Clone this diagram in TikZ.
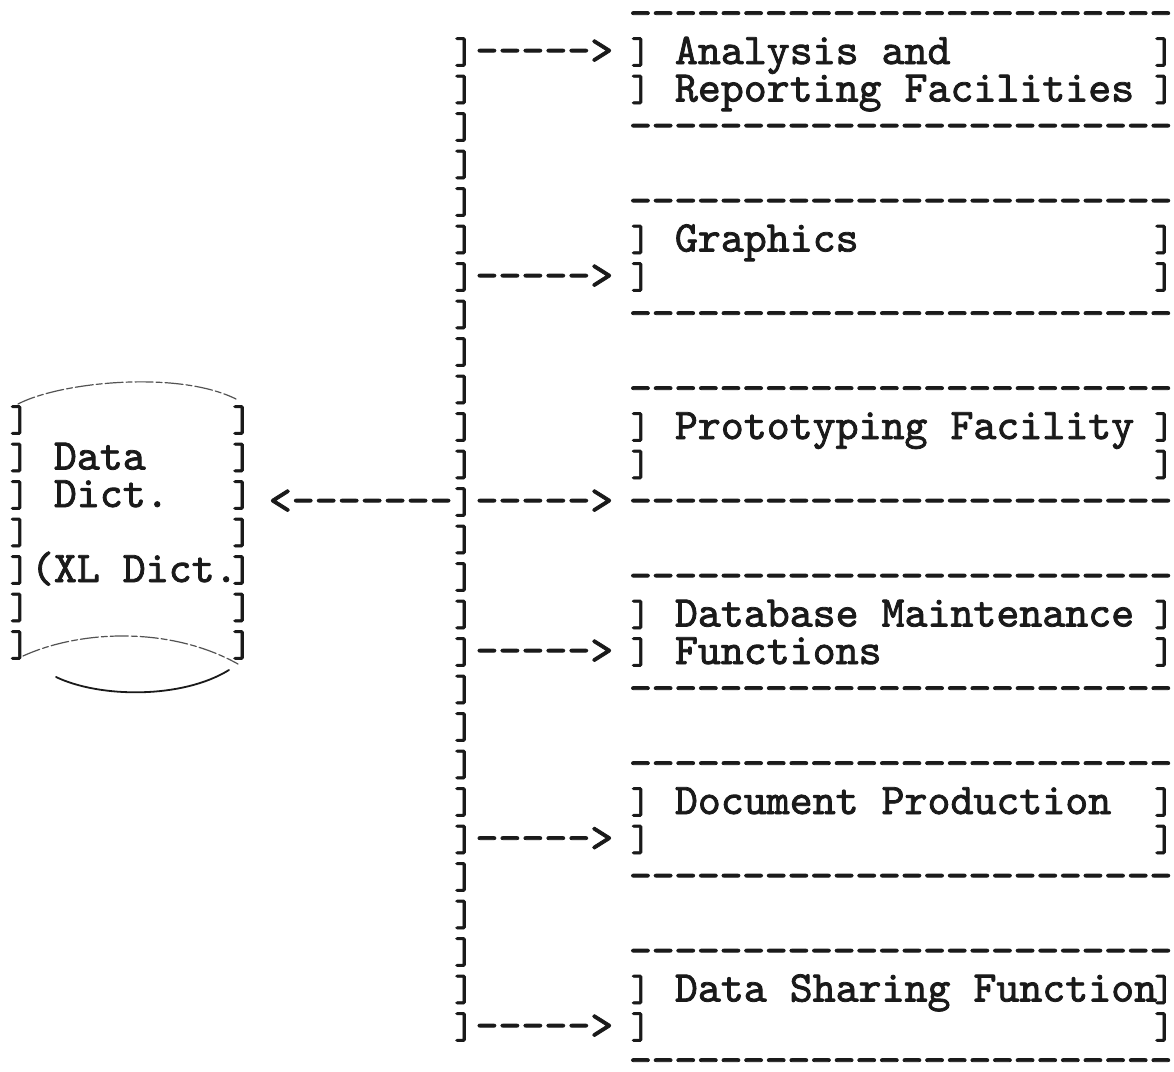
\documentclass[tikz,border=0pt]{standalone}
\usepackage{graphicx}
\usepackage{fontspec}
\setmonofont{lmmono10-regular.otf}[FakeBold=1.8]
\definecolor{ink}{HTML}{1A1A1A}
% trunk column (left edge of column 0), box columns, right edge of boxes
\newcommand\colx[1]{452.5+22.96*(#1)}
\newcommand\bx[1]{629+22.96*(#1)}
\newcommand\edgex{1164}
\newcommand\rowy[1]{64+37.5*(#1)}
\newcommand\cyly[1]{432+37.5*(#1)}
% a typewriter bracket, 14.5pt tall, centred 6pt above the baseline, in a cell of given width
\newcommand\brk[1]{\makebox[#1][c]{\raisebox{\dimexpr6pt-(\height-\depth)/2\relax}{\resizebox*{!}{14.5pt}{]}}}}
\newcommand\rb{\brk{11.48pt}}
\newcommand\rbe{\brk{7pt}}
\newcommand\rbc{\brk{5pt}}
\newcommand\dd{-\kern-0.17pt}
\newcommand\dashrow{\dd\dd\dd\dd\dd\dd\dd\dd\dd\dd\dd\dd\dd\dd\dd\dd\dd\dd\dd\dd\dd\dd\dd-}
\begin{document}
\begin{tikzpicture}[x=0.5pt,y=-0.5pt,
  tw/.style={font=\ttfamily\fontsize{21.87}{24}\selectfont,anchor=base west,inner sep=0pt,outer sep=0pt,text=ink},
  edge/.style={tw,anchor=base},
  faint/.style={draw=ink!75,line width=0.6pt,line cap=round,dash pattern=on 9pt off 1.5pt on 3pt off 1.5pt},
  solidarc/.style={draw=ink,line width=0.9pt,line cap=round}]
\useasboundingbox[fill=white] (0,0) rectangle (1174,1072);

% ---- trunk column of ] with arrows
\foreach \r in {1,2,3,4,5,7,8,9,10,11,13,14,15,17,18,19,20,22,23,24,25}
  \node[tw] (trunk\r) at ({\colx{0}},{\rowy{\r}}) {\rb};
\foreach \r in {0,6,12,16,21,26}
  \node[tw] (arrow\r) at ({\colx{0}},{\rowy{\r}}) {\rb----->};
\node[tw] (back) at ({\colx{-8}},{\rowy{12}}) {<-------};

% ---- right edges of the boxes
\foreach \r in {0,1,5,6,10,11,15,16,20,21,25,26}
  \node[edge] (edge\r) at (\edgex,{\rowy{\r}}) {\rbe};

% ---- box: Analysis and Reporting Facilities
\node[tw] (atop) at ({\bx{0}},{\rowy{-1}}) {\dashrow};
\node[tw] (a1)   at ({\bx{0}},{\rowy{0}}) {\rb{} Analysis and};
\node[tw] (a2)   at ({\bx{0}},{\rowy{1}}) {\rb{} Reporting Facilities};
\node[tw] (abot) at ({\bx{0}},{\rowy{2}}) {\dashrow};

% ---- box: Graphics
\node[tw] (gtop) at ({\bx{0}},{\rowy{4}}) {\dashrow};
\node[tw] (g1)   at ({\bx{0}},{\rowy{5}}) {\rb{} Graphics};
\node[tw] (g2)   at ({\bx{0}},{\rowy{6}}) {\rb};
\node[tw] (gbot) at ({\bx{0}},{\rowy{7}}) {\dashrow};

% ---- box: Prototyping Facility
\node[tw] (ptop) at ({\bx{0}},{\rowy{9}}) {\dashrow};
\node[tw] (p1)   at ({\bx{0}},{\rowy{10}}) {\rb{} Prototyping Facility};
\node[tw] (p2)   at ({\bx{0}},{\rowy{11}}) {\rb};
\node[tw] (pbot) at ({\bx{0}},{\rowy{12}}) {\dashrow};

% ---- box: Database Maintenance Functions
\node[tw] (dtop) at ({\bx{0}},{\rowy{14}}) {\dashrow};
\node[tw] (d1)   at ({\bx{0}},{\rowy{15}}) {\rb{} Database Maintenance};
\node[tw] (d2)   at ({\bx{0}},{\rowy{16}}) {\rb{} Functions};
\node[tw] (dbot) at ({\bx{0}},{\rowy{17}}) {\dashrow};

% ---- box: Document Production
\node[tw] (otop) at ({\bx{0}},{\rowy{19}}) {\dashrow};
\node[tw] (o1)   at ({\bx{0}},{\rowy{20}}) {\rb{} Document Production};
\node[tw] (o2)   at ({\bx{0}},{\rowy{21}}) {\rb};
\node[tw] (obot) at ({\bx{0}},{\rowy{22}}) {\dashrow};

% ---- box: Data Sharing Function
\node[tw] (stop) at ({\bx{0}},{\rowy{24}}) {\dashrow};
\node[tw] (s1)   at ({\bx{0}},{\rowy{25}}) {\rb{} Data Sharing Function};
\node[tw] (s2)   at ({\bx{0}},{\rowy{26}}) {\rb};
\node[tw] (sbot) at ({\bx{0}},{\rowy{27}-3}) {\dashrow};

% ---- cylinder: Data Dict.
\foreach \k in {0,3,5,6}
  \node[tw] (c\k l) at (8,{\cyly{\k}}) {\rb};
\foreach \k in {0,1,2,3,4,5,6}
  \node[edge] (c\k r) at (242,{\cyly{\k}}) {\rbc};
\node[tw] (c1l) at (8,{\cyly{1}}) {\rb{} Data};
\node[tw] (c2l) at (8,{\cyly{2}}) {\rb{} Dict.};
\node[tw] (c4l) at (8,{\cyly{4}}) {\rb(XL Dict.};

% cylinder top and bottom arcs
\draw[faint] (18,404) .. controls (60,382) and (178,370) .. (236,399);
\draw[faint] (23,656) .. controls (80,630) and (170,626) .. (238,664);
\draw[solidarc] (56,677) .. controls (100,698) and (182,699) .. (229,670);
\end{tikzpicture}
\end{document}
